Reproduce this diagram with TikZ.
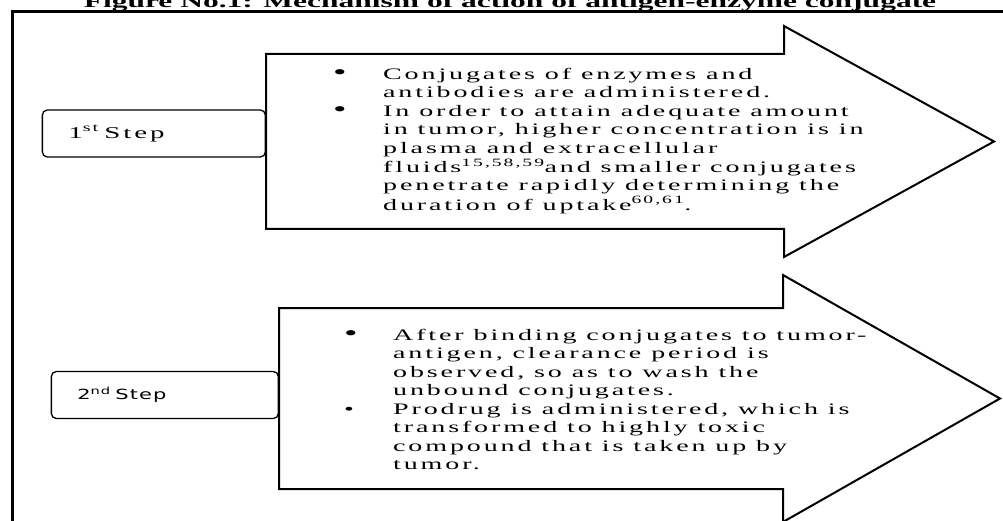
\documentclass[tikz,border=0pt]{standalone}
\usepackage{fontspec}
\setmainfont{Liberation Serif}
\newfontfamily\titleserif[FakeStretch=1.75]{Liberation Serif}
\newfontfamily\wideserif[FakeStretch=1.75, LetterSpace=18]{Liberation Serif}
\newfontfamily\widesans[FakeStretch=1.5, LetterSpace=8]{DejaVu Sans}
\usepackage{tikz}
\usetikzlibrary{positioning}
\tikzset{
    frameline/.style = {draw=black, line width=3pt},
    blockarrow/.style = {draw=black, fill=white, line width=2pt, line join=miter},
    stepbox/.style = {draw=black, line width=1.3pt, rounded corners=5pt,
        minimum height=47pt, inner xsep=26pt, align=left},
    itemlist/.style = {inner sep=0pt, anchor=north west, align=left,
        font=\wideserif\fontsize{16}{18.5}\selectfont},
}
\newcommand{\bigdot}{{\fontsize{22}{18}\selectfont\textbullet}}

\begin{document}
\begin{tikzpicture}[x=1pt, y=-1pt]
        \useasboundingbox (0,0) rectangle (1003,521);
        \clip (0,0) rectangle (1003,521);
        \node (title) [anchor=base, font=\titleserif\bfseries\fontsize{18}{20}\selectfont]
            at (510,8) {Figure No.1: Mechanism of action of antigen-enzyme conjugate};
        \draw[frameline] (12,540) -- (12,12) -- (1020,12);
        % first step
        \draw[blockarrow] (266,54) -- (784,54) -- (784,26) -- (994,141.5)
            -- (784,257) -- (784,229) -- (266,229) -- cycle;
        \coordinate (shaft1) at (266,133.5);
        \node (first) [stepbox, text width=171pt, left=0pt of shaft1,
            font=\wideserif\fontsize{16.5}{18}\selectfont] {1\textsuperscript{st} Step};
        \node (list1) [itemlist] at (333,66) {%
            \begin{tabular}{@{}p{50pt}@{}l@{}}
            \bigdot & Conjugates of enzymes and\\
             & antibodies are administered.\\
            \bigdot & In order to attain adequate amount\\
             & in tumor, higher concentration is in\\
             & plasma and extracellular\\
             & fluids\textsuperscript{15,58,59}and smaller conjugates\\
             & penetrate rapidly determining the\\
             & duration of uptake\textsuperscript{60,61}.
            \end{tabular}};
        % second step
        \draw[blockarrow] (279,308) -- (783,308) -- (783,275) -- (1000,398.5)
            -- (783,522) -- (783,489) -- (279,489) -- cycle;
        \coordinate (shaft2) at (279,395);
        \node (second) [stepbox, text width=175pt, left=0pt of shaft2,
            font=\widesans\fontsize{14}{17}\selectfont] {2\textsuperscript{nd} Step};
        \node (list2) [itemlist] at (344,327) {%
            \begin{tabular}{@{}p{49pt}@{}l@{}}
            \bigdot & After binding conjugates to tumor-\\
             & antigen, clearance period is\\
             & observed, so as to wash the\\
             & unbound conjugates.\\
            \textbullet & Prodrug is administered, which is\\
             & transformed to highly toxic\\
             & compound that is taken up by\\
             & tumor.
            \end{tabular}};
\end{tikzpicture}
\end{document}
